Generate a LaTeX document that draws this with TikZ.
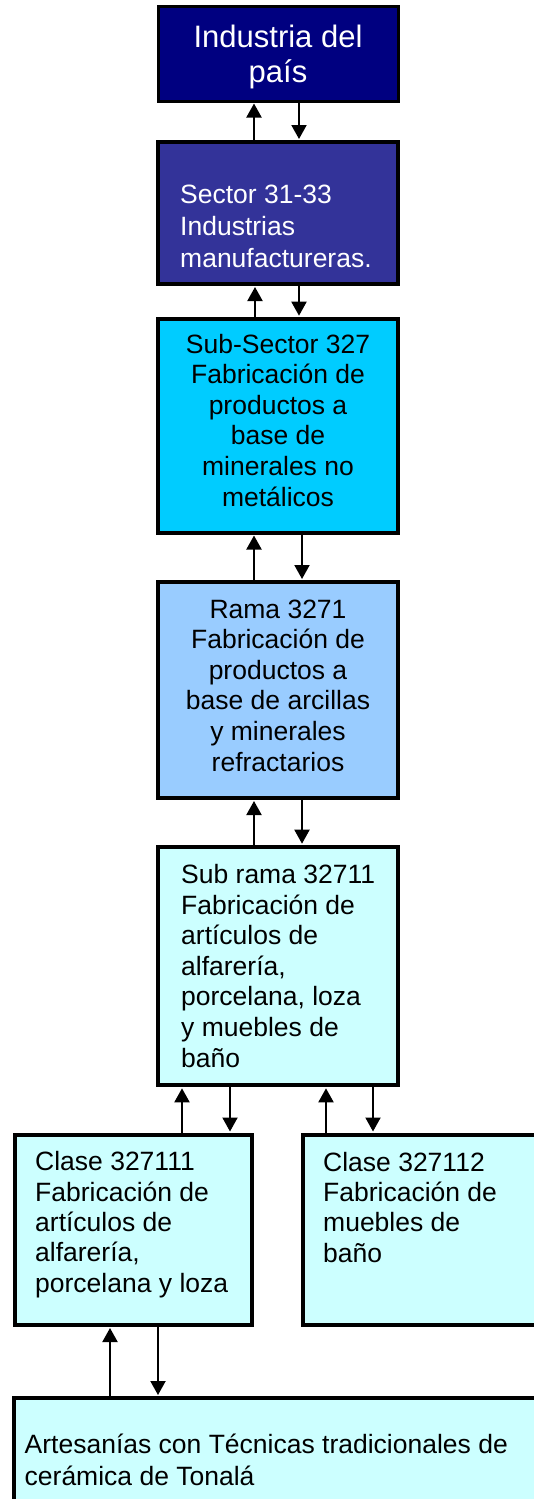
\documentclass[tikz,border=0pt]{standalone}
\usepackage{fontspec}
\setmainfont{Liberation Sans}
\usetikzlibrary{arrows.meta}
\definecolor{navybox}{RGB}{0,0,128}
\definecolor{sectorbox}{RGB}{51,51,153}
\definecolor{cyanbox}{RGB}{0,204,255}
\definecolor{bluebox}{RGB}{153,204,255}
\definecolor{palebox}{RGB}{204,255,255}

\begin{document}
\begin{tikzpicture}[x=1pt,y=1pt,yscale=-1,xscale=1,
  box/.style={draw=black,line width=4pt,inner sep=0pt,minimum width=240pt},
  txt/.style={inner sep=0pt,font={\fontsize{26.5}{30.6}\selectfont}},
  arr/.style={line width=2pt,-{Triangle[width=15pt,length=14pt]},shorten >=1pt}]
 \useasboundingbox (0,0) rectangle (534,1499);
 % boxes
 \node[box,line width=3pt,fill=navybox,minimum height=94.5pt] (pais) at (278,53.75) {};
 \node[box,fill=sectorbox,minimum height=142pt] (sector) at (278,213) {};
 \node[box,fill=cyanbox,minimum height=213.8pt] (subsector) at (278,425.6) {};
 \node[box,fill=bluebox,minimum height=216pt] (rama) at (278,690) {};
 \node[box,fill=palebox,minimum height=238.6pt] (subrama) at (278,966) {};
 \node[box,fill=palebox,minimum width=237.5pt,minimum height=190.5pt] (clase1) at (133.5,1229.75) {};
 \node[box,fill=palebox,minimum width=242pt,minimum height=190.5pt] (clase2) at (424,1229.75) {};
 \node[box,fill=palebox,minimum width=531pt,minimum height=122pt] (artes) at (279.5,1459) {};

 % texts (base = last line)
 \node[txt,anchor=base,align=center,text=white,font={\fontsize{31}{35}\selectfont}] (t-pais) at (278,82) {Industria del\\país};
 \node[txt,anchor=base west,align=left,text=white,font={\fontsize{26.5}{32}\selectfont}] (t-sector) at (180,267) {Sector 31-33\\Industrias\\manufactureras.};
 \node[txt,anchor=base,align=center] (t-subsector) at (278,506) {Sub-Sector 327\\Fabricación de\\productos a\\base de\\minerales no\\metálicos};
 \node[txt,anchor=base,align=center] (t-rama) at (278,771) {Rama 3271\\Fabricación de\\productos a\\base de arcillas\\y minerales\\refractarios};
 \node[txt,anchor=base west,align=left] (t-subrama) at (181,1067) {Sub rama 32711\\Fabricación de\\artículos de\\alfarería,\\porcelana, loza\\y muebles de\\baño};
 \node[txt,anchor=base west,align=left,font={\fontsize{26.5}{30.3}\selectfont}] (t-clase1) at (35,1292) {Clase 327111\\Fabricación de\\artículos de\\alfarería,\\porcelana y loza};
 \node[txt,anchor=base west,align=left,font={\fontsize{26.5}{30.3}\selectfont}] (t-clase2) at (323,1262) {Clase 327112\\Fabricación de\\muebles de\\baño};
 \node[txt,anchor=base west,align=left,font={\fontsize{26.5}{31.5}\selectfont}] (t-artes) at (24.5,1485) {Artesanías con Técnicas tradicionales de\\cerámica de Tonalá};

 % arrows
 \draw[arr] ([xshift=-24pt]sector.north) -- ([xshift=-24pt]pais.south);
 \draw[arr] ([xshift=21pt]pais.south) -- ([xshift=21pt]sector.north);
 \draw[arr] ([xshift=-23pt]subsector.north) -- ([xshift=-23pt]sector.south);
 \draw[arr] ([xshift=21pt]sector.south) -- ([xshift=21pt]subsector.north);
 \draw[arr] ([xshift=-24pt]rama.north) -- ([xshift=-24pt]subsector.south);
 \draw[arr] ([xshift=24pt]subsector.south) -- ([xshift=24pt]rama.north);
 \draw[arr] ([xshift=-24pt]subrama.north) -- ([xshift=-24pt]rama.south);
 \draw[arr] ([xshift=24pt]rama.south) -- ([xshift=24pt]subrama.north);
 \draw[arr] ([xshift=48.5pt]clase1.north) -- ([xshift=-96pt]subrama.south);
 \draw[arr] ([xshift=-48pt]subrama.south) -- ([xshift=96.5pt]clase1.north);
 \draw[arr] ([xshift=-98pt]clase2.north) -- ([xshift=48pt]subrama.south);
 \draw[arr] ([xshift=95pt]subrama.south) -- ([xshift=-51pt]clase2.north);
 \draw[arr] ([xshift=-169.5pt]artes.north) -- ([xshift=-23.5pt]clase1.south);
 \draw[arr] ([xshift=24.5pt]clase1.south) -- ([xshift=-121.5pt]artes.north);
\end{tikzpicture}
\end{document}
